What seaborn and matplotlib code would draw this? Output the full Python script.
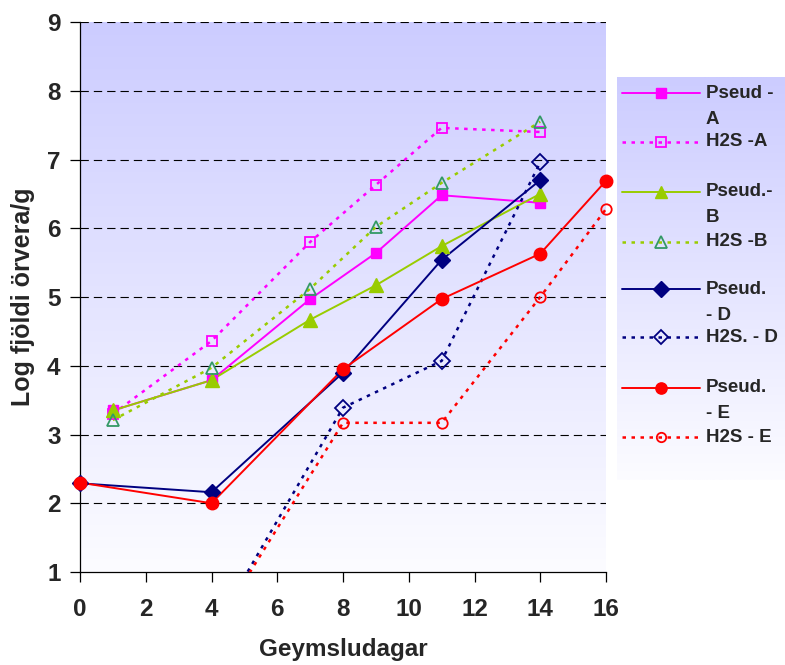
import numpy as np
import pandas as pd
import matplotlib
matplotlib.use("Agg")
import matplotlib.pyplot as plt
import seaborn as sns
from matplotlib.colors import LinearSegmentedColormap

# Storage days per sample group
days_ab = [1, 4, 7, 9, 11, 14]
days_d = [0, 4, 8, 11, 14]
days_h2s_d = [4, 8, 11, 14]
days_e = [0, 4, 8, 11, 14, 16]
days_h2s_e = [4, 8, 11, 14, 16]

# Log counts per gram
pseud_a = [3.35, 3.79, 4.97, 5.64, 6.48, 6.37]
h2s_a = [3.30, 4.36, 5.80, 6.63, 7.46, 7.40]
pseud_b = [3.35, 3.79, 4.67, 5.17, 5.74, 6.50]
h2s_b = [3.21, 3.97, 5.12, 6.02, 6.66, 7.55]
pseud_d = [2.29, 2.16, 3.90, 5.54, 6.70]
h2s_d = [0.10, 3.39, 4.07, 6.96]
pseud_e = [2.30, 2.00, 3.95, 4.97, 5.63, 6.69]
h2s_e = [0.10, 3.17, 3.17, 5.00, 6.28]

labels = ["Pseud -\nA", "H2S -A", "Pseud.-\nB", "H2S -B",
          "Pseud.\n- D", "H2S. - D", "Pseud.\n- E", "H2S - E"]
x_ticks = [0, 2, 4, 6, 8, 10, 12, 14, 16]
y_ticks = [1, 2, 3, 4, 5, 6, 7, 8, 9]

DOT = (0, (1.4, 2.2))
series = [
    dict(x=days_ab, y=pseud_a, color="#FF00FF", ls="-", lw=1.4, marker="s", ms=7.5, mfc="#FF00FF", mec="#FF00FF", mew=1),
    dict(x=days_ab, y=h2s_a, color="#FF00FF", ls=DOT, lw=1.8, marker="s", ms=7.5, mfc="none", mec="#FF00FF", mew=1.3),
    dict(x=days_ab, y=pseud_b, color="#99CC00", ls="-", lw=1.4, marker="^", ms=9.5, mfc="#99CC00", mec="#99CC00", mew=1),
    dict(x=days_ab, y=h2s_b, color="#99CC00", ls=DOT, lw=1.8, marker="^", ms=9, mfc="none", mec="#339966", mew=1.3),
    dict(x=days_d, y=pseud_d, color="#000080", ls="-", lw=1.4, marker="D", ms=8.5, mfc="#000080", mec="#000080", mew=1),
    dict(x=days_h2s_d, y=h2s_d, color="#000080", ls=DOT, lw=1.8, marker="D", ms=8, mfc="none", mec="#000080", mew=1.3),
    dict(x=days_e, y=pseud_e, color="#FF0000", ls="-", lw=1.4, marker="o", ms=9, mfc="#FF0000", mec="#FF0000", mew=1),
    dict(x=days_h2s_e, y=h2s_e, color="#FF0000", ls=DOT, lw=1.8, marker="o", ms=7.5, mfc="none", mec="#FF0000", mew=1.3),
]

sns.set_theme(style="white")
plt.rcParams["font.family"] = ["Liberation Sans", "DejaVu Sans"]
plt.rcParams["font.weight"] = "bold"

W, H = 785, 665
fig = plt.figure(figsize=(W / 100, H / 100), dpi=100)
fig.patch.set_facecolor("white")

L, R, T, B = 80, 606, 22, 572
ax = fig.add_axes([L / W, 1 - B / H, (R - L) / W, (B - T) / H])

YMIN, YMAX = 1, 9
bg = LinearSegmentedColormap.from_list("bg", ["#CCCCFF", "#FCFCFF"])
grad = np.linspace(0, 1, 256).reshape(-1, 1)
# row 0 (lavender) at the top of the plot area, fading to white at the bottom
ax.imshow(grad, cmap=bg, extent=[0, 16, YMIN, YMAX], aspect="auto", zorder=0, origin="upper")

for yv in y_ticks[1:]:
    ax.axhline(yv, color="black", lw=0.8, ls=(0, (7.5, 4.5)), zorder=1)

for s in series:
    df = pd.DataFrame({"day": s["x"], "val": s["y"]})
    sns.lineplot(data=df, x="day", y="val", ax=ax, color=s["color"], linestyle=s["ls"],
                 linewidth=s["lw"], zorder=3, sort=False, estimator=None)
    vis = df[df["val"] >= YMIN]
    sns.lineplot(data=vis, x="day", y="val", ax=ax, linestyle="none", marker=s["marker"],
                 markersize=s["ms"], markerfacecolor=s["mfc"], markeredgecolor=s["mec"],
                 markeredgewidth=s["mew"], color=s["color"], zorder=4, clip_on=False,
                 sort=False, estimator=None)

ax.set_xlim(0, 16)
ax.set_ylim(YMIN, YMAX)
ax.set_xticks(x_ticks)
ax.set_yticks(y_ticks)
ax.tick_params(axis="both", direction="out", length=7, width=0.9, color="black",
               labelsize=17.5, bottom=True, left=True)
ax.tick_params(axis="x", pad=12)
ax.tick_params(axis="y", pad=7)
for lab in ax.get_xticklabels() + ax.get_yticklabels():
    lab.set_fontweight("bold")
for side in ["top", "right"]:
    ax.spines[side].set_visible(False)
for side in ["left", "bottom"]:
    ax.spines[side].set_color("black")
    ax.spines[side].set_linewidth(0.9)
ax.set_xlabel("Geymsludagar", fontsize=17.5, fontweight="bold", labelpad=12)
ax.set_ylabel("Log fjöldi örvera/g", fontsize=18, fontweight="bold", labelpad=9)
ax.grid(False)

# Legend panel
LL, LR, LT, LB = 617, 785, 77, 480
lax = fig.add_axes([LL / W, 1 - LB / H, (LR - LL) / W, (LB - LT) / H])
lax.imshow(grad, cmap=bg, extent=[LL, LR, LB, LT], aspect="auto", zorder=0, origin="upper")
lax.set_xlim(LL, LR)
lax.set_ylim(LB, LT)
lax.axis("off")
row_y = [93, 142, 192, 242, 289, 337, 388, 437]
for s, lab, yy in zip(series, labels, row_y):
    lax.plot([622, 700], [yy, yy], color=s["color"], linestyle=s["ls"], linewidth=s["lw"], zorder=2)
    lax.plot([661], [yy], linestyle="none", marker=s["marker"], markersize=s["ms"] * 0.9,
             markerfacecolor=s["mfc"], markeredgecolor=s["mec"], markeredgewidth=s["mew"], zorder=3)
    for k, part in enumerate(lab.split("\n")):
        lax.text(706, yy + 26 * k, part, fontsize=13.5, fontweight="bold", va="center", ha="left")

fig.savefig("out.png", dpi=100)
